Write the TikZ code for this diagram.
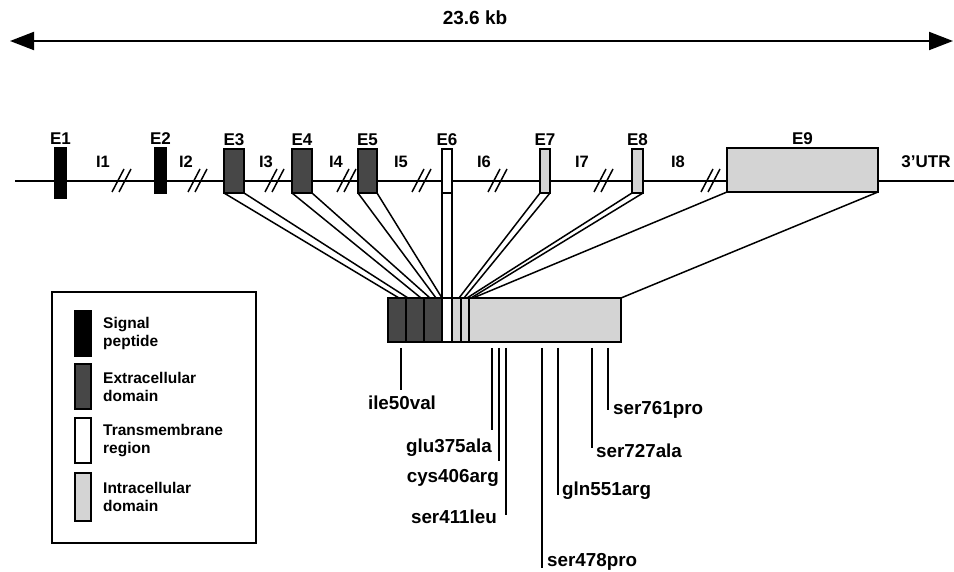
\documentclass[tikz,border=0pt]{standalone}
\usepackage{fontspec}
\setmainfont{Liberation Sans}
\usepackage{xcolor}
\definecolor{exdark}{HTML}{474747}
\definecolor{exlight}{HTML}{D4D4D4}
\usepackage{tikz}
\usetikzlibrary{arrows.meta,positioning}

\begin{document}
\begin{tikzpicture}[x=1pt,y=-1pt,>=Latex,node distance=8pt]
\tikzset{
 exon/.style={draw,line width=1.6pt,inner sep=0pt,outer sep=0pt},
 sig/.style={exon,fill=black},
 extra/.style={exon,fill=exdark},
 tmem/.style={exon,fill=white},
 intra/.style={exon,fill=exlight},
 lab/.style={font=\fontsize{17}{19}\selectfont\bfseries,inner sep=1.5pt},
 intr/.style={font=\fontsize{16.5}{18}\selectfont\bfseries,inner sep=0pt},
 legtxt/.style={font=\fontsize{15.5}{18}\selectfont\bfseries,align=left,inner sep=0pt},
 mut/.style={font=\fontsize{18.8}{20}\selectfont\bfseries,inner sep=0pt},
 gene/.style={line width=2.2pt},
 link/.style={line width=1.5pt},
 mline/.style={line width=1.4pt},
 brk/.style={line width=1.5pt}
}
\useasboundingbox (0,0) rectangle (954,572);

% size of the gene
\coordinate (kl) at (10,41);
\coordinate (kr) at (953,41);
\draw[line width=2pt,{Triangle[length=24pt,width=18pt]}-{Triangle[length=24pt,width=18pt]}] (kl) -- (kr);
\node[lab,font=\fontsize{19}{21}\selectfont\bfseries] (kb) at (475,18) {23.6 kb};

% gene line and intron breaks
\coordinate (gl) at (15,181);
\coordinate (gr) at (954,181);
\draw[gene] (gl) -- (gr);
\foreach \x in {122,198,275,347,422,498,604,711}
 \draw[brk] (\x-10,192) -- (\x+2,169) (\x-3,192) -- (\x+9,169);

% exons
\node[sig,minimum width=11pt,minimum height=50pt] (e1) at (60.5,173) {};
\node[sig,minimum width=11pt,minimum height=45pt] (e2) at (160.5,170.5) {};
\node[extra,minimum width=20pt,minimum height=44pt] (e3) at (234,171) {};
\node[extra,minimum width=20pt,minimum height=44pt] (e4) at (302,171) {};
\node[extra,minimum width=19pt,minimum height=44pt] (e5) at (367.5,171) {};
\node[tmem,minimum width=10pt,minimum height=44pt] (e6) at (447,171) {};
\node[intra,minimum width=10pt,minimum height=44pt] (e7) at (545,171) {};
\node[intra,minimum width=11pt,minimum height=44pt] (e8) at (637.5,171) {};
\node[intra,minimum width=151pt,minimum height=44pt] (e9) at (802.5,170) {};
\foreach \n in {1,...,9}
 \node[lab,above=2pt of e\n] (le\n) {E\n};
\foreach \n/\x in {1/103,2/186,3/266,4/336,5/401,6/484,7/582,8/678}
 \node[intr] (i\n) at (\x,162) {I\n};
\node[lab] (utr) at (926,162) {3'UTR};

% protein
\node[extra,minimum width=18pt,minimum height=44pt] (s1) at (397,320) {};
\node[extra,minimum width=18pt,minimum height=44pt,right=0pt of s1] (s2) {};
\node[extra,minimum width=18pt,minimum height=44pt,right=0pt of s2] (s3) {};
\node[tmem,minimum width=10pt,minimum height=44pt,right=0pt of s3] (s4) {};
\node[intra,minimum width=9pt,minimum height=44pt,right=0pt of s4] (s5) {};
\node[intra,minimum width=8pt,minimum height=44pt,right=0pt of s5] (s6) {};
\node[intra,minimum width=152pt,minimum height=44pt,right=0pt of s6] (s7) {};

% exon to protein
\foreach \n/\x in {1/399,2/408,3/421,4/430,5/436,6/442,7/459,8/464,9/467,10/471,11/473}
 \coordinate (p\n) at (\x,298);
\draw[link] (e3.south west) -- (p1);
\draw[link] (e3.south east) -- (p2);
\draw[link] (e4.south west) -- (p3);
\draw[link] (e4.south east) -- (p4);
\draw[link] (e5.south west) -- (p5);
\draw[link] (e5.south east) -- (p6);
\draw[link] (e6.south west) -- (e6.south west |- s4.north);
\draw[link] (e6.south east) -- (e6.south east |- s4.north);
\draw[link] (e7.south west) -- (p7);
\draw[link] (e7.south east) -- (p8);
\draw[link] (e8.south west) -- (p9);
\draw[link] (e8.south east) -- (p10);
\draw[link] (e9.south west) -- (p11);
\draw[link] (e9.south east) -- (s7.north east);

% variants
\foreach \n/\x/\y in {50/401/390,375/492/430,406/499/461,411/506/515,478/542/568,551/558/495,727/592/448,761/608/410}
 {\coordinate (t\n) at (\x,348);
  \coordinate (b\n) at (\x,\y);
  \draw[mline] (t\n) -- (b\n);}
\node[mut,anchor=base] (m50) at (402,409) {ile50val};
\node[mut,anchor=base east] (m375) at (492,452) {glu375ala};
\node[mut,anchor=base east] (m406) at (499,482) {cys406arg};
\node[mut,anchor=base east] (m411) at (497,523) {ser411leu};
\node[mut,anchor=base west] (m478) at (547,566) {ser478pro};
\node[mut,anchor=base west] (m551) at (562,495) {gln551arg};
\node[mut,anchor=base west] (m727) at (596,457) {ser727ala};
\node[mut,anchor=base west] (m761) at (613,414) {ser761pro};

% legend
\node[draw,line width=2.4pt,minimum width=204pt,minimum height=251pt,inner sep=0pt] (leg) at (154,417.5) {};
\node[sig,minimum width=16pt,minimum height=45pt] (k1) at (83,333.5) {};
\node[extra,minimum width=16pt,minimum height=45pt,below=8pt of k1] (k2) {};
\node[tmem,minimum width=16pt,minimum height=45pt,below=9pt of k2] (k3) {};
\node[intra,minimum width=16pt,minimum height=48pt,below=10pt of k3] (k4) {};
\node[legtxt,right=12pt of k1] (kt1) {Signal\\peptide};
\node[legtxt,right=12pt of k2] (kt2) {Extracellular\\domain};
\node[legtxt,right=12pt of k3] (kt3) {Transmembrane\\region};
\node[legtxt,right=12pt of k4] (kt4) {Intracellular\\domain};
\end{tikzpicture}
\end{document}
